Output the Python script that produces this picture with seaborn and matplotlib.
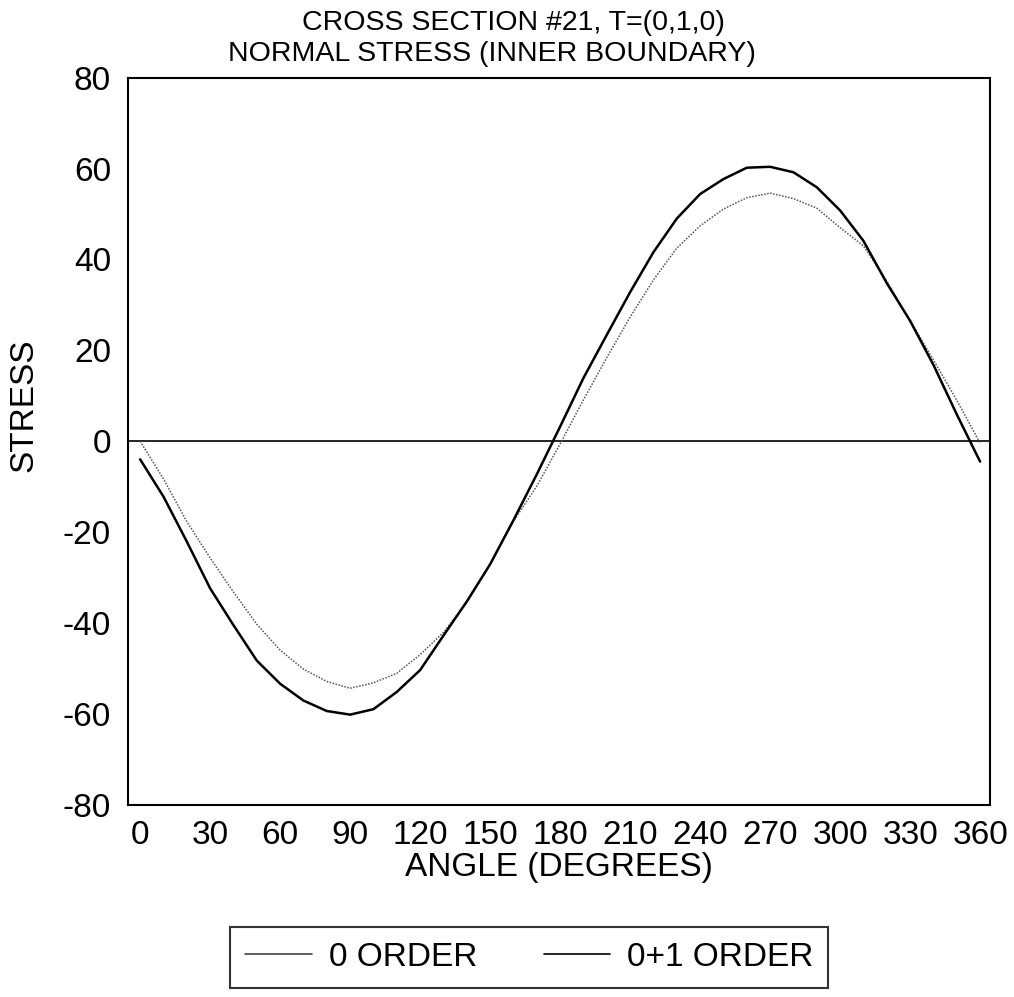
import matplotlib
matplotlib.use("Agg")
import matplotlib.pyplot as plt
import seaborn as sns
import pandas as pd
from matplotlib.lines import Line2D

angles = list(range(0, 361, 10))
order0_plus1 = [-4.0, -12.2, -22.1, -32.4, -40.5, -48.3, -53.4, -57.1, -59.4, -60.2,
                -59.0, -55.2, -50.4, -42.8, -35.3, -27.1, -17.4, -7.3, 3.2,
                13.9, 23.4, 32.8, 41.6, 49.0, 54.4, 57.7, 60.2, 60.4, 59.2,
                55.9, 50.8, 44.1, 34.8, 26.5, 16.8, 5.9, -4.5]
order0 = [0.0, -8.3, -17.7, -25.7, -33.2, -40.3, -46.0, -50.2, -52.9, -54.4,
          -53.2, -51.1, -47.0, -42.1, -35.5, -27.1, -17.6, -9.9, -0.6,
          9.1, 18.4, 27.3, 35.5, 42.5, 47.4, 51.1, 53.6, 54.6, 53.4,
          51.3, 47.0, 43.0, 35.2, 26.5, 17.9, 9.0, -0.4]
series_names = ["0 ORDER", "0+1 ORDER"]
x_labels = [str(a) if a % 30 == 0 else "" for a in angles]
y_ticks = list(range(-80, 81, 20))

sns.set_theme(style="white")
plt.rcParams["font.family"] = ["Liberation Sans", "DejaVu Sans"]
plt.rcParams["axes.unicode_minus"] = False

df = pd.DataFrame({
    "angle": angles * 2,
    "stress": order0 + order0_plus1,
    "series": [series_names[0]] * len(angles) + [series_names[1]] * len(angles),
})

fig = plt.figure(figsize=(10.14, 9.97), dpi=100)
ax = fig.add_axes([0.126, 0.193, 0.850, 0.729])

sns.lineplot(data=df, x="angle", y="stress", hue="series", style="series",
             palette={series_names[0]: "#555555", series_names[1]: "black"},
             dashes={series_names[0]: (1, 1), series_names[1]: ""},
             sort=False, ax=ax, legend=False)
lines = ax.get_lines()
lines[0].set_linewidth(1.1)
lines[1].set_linewidth(1.8)
ax.axhline(0, color="black", lw=1.2, zorder=1)

ax.set_xlim(-5.3, 364.1)
ax.set_ylim(-80, 80)
ax.set_xticks(angles)
ax.set_xticklabels(x_labels)
ax.set_yticks(y_ticks)
ax.tick_params(axis="both", direction="out", length=10, width=1.3,
               labelsize=24, color="black", labelcolor="black", pad=2)
ax.tick_params(axis="x", pad=1)
for s in ax.spines.values():
    s.set_visible(True)
    s.set_color("black")
    s.set_linewidth(1.5)

ax.set_xlabel("ANGLE (DEGREES)", fontsize=24, color="black", labelpad=1)
ax.set_ylabel("STRESS", fontsize=24, color="black")
ax.yaxis.set_label_coords(-0.102, 0.55)
fig.text(0.506, 0.990, "CROSS SECTION #21, T=(0,1,0)", ha="center", va="top",
         fontsize=20.5, color="black")
fig.text(0.485, 0.959, "NORMAL STRESS (INNER BOUNDARY)", ha="center", va="top",
         fontsize=20.5, color="black")

handles = [Line2D([], [], color="#444444", lw=1.2),
           Line2D([], [], color="black", lw=1.2)]
leg = fig.legend(handles, series_names, loc="center",
                 bbox_to_anchor=(0.522, 0.040),
                 ncol=2, fontsize=24, frameon=True, fancybox=False,
                 handlelength=2.0, handletextpad=0.5, columnspacing=2.0,
                 borderaxespad=0.0, borderpad=0.45)
leg.get_frame().set_edgecolor("black")
leg.get_frame().set_linewidth(1.5)
for t in leg.get_texts():
    t.set_color("black")

fig.savefig("out.png", dpi=100, facecolor="white")
